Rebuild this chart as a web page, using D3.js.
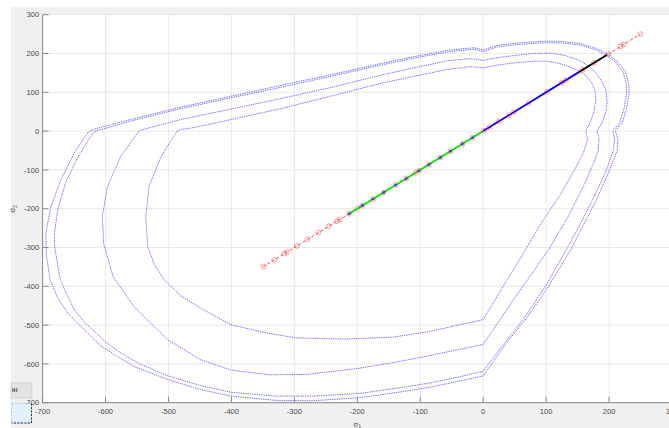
<!DOCTYPE html>
<html>
<head>
<meta charset="utf-8">
<script src="https://cdn.jsdelivr.net/npm/d3@7"></script>
<style>
  html, body { margin: 0; padding: 0; background: #ffffff; }
  svg { display: block; }
  text { font-family: "Liberation Sans", Arial, Helvetica, sans-serif; }
</style>
</head>
<body>
<svg id="chart" width="669" height="428"></svg>
<script>
// Axis ticks (MPa)
const xTicks = [-700, -600, -500, -400, -300, -200, -100, 0, 100, 200, 300];
const yTicks = [-700, -600, -500, -400, -300, -200, -100, 0, 100, 200, 300];

// Failure envelopes in the sigma1-sigma2 plane, [sigma1, sigma2]
const envelopeA = [
  [198,198],[180,213],[154,226],[125,231],[100,232],[60,228],[22,221],[0,209],[-15,215],[-57,208],
  [-110,192],[-163,174],[-240,146],[-321,118],[-400,90],[-480,62],[-560,30],[-605,11],[-620,4],
  [-627,-2],[-634,-18],[-650,-57],[-671,-126],[-687,-195],[-695,-265],[-694,-320],[-688,-383],
  [-676,-430],[-660,-469],[-640,-502],[-607,-554],[-581,-581],[-554,-607],[-502,-640],[-449,-666],
  [-401,-683],[-330,-694],[-272,-695],[-195,-687],[-126,-671],[-84,-660],[-40,-645],[0,-631],
  [35,-550],[70,-480],[104,-400],[139,-306],[160,-240],[180,-177],[201,-100],[213,-49],[214,-20],
  [210,0],[221,22],[228,60],[232,100],[231,125],[226,154],[213,180]
];
const envelopeB = [
  [195,195],[180,209],[154,222],[125,227],[100,228],[60,224],[22,217],[0,205],[-15,211],[-57,204],
  [-110,188],[-163,170],[-240,142],[-321,113],[-400,86],[-480,58],[-560,26],[-598,8],[-612,2],
  [-618,-2],[-626,-20],[-642,-62],[-663,-130],[-676,-203],[-681,-260],[-681,-297],[-672,-383],
  [-666,-405],[-650,-460],[-632,-495],[-598,-546],[-574,-574],[-548,-598],[-502,-630],[-449,-656],
  [-401,-673],[-330,-683],[-272,-683],[-195,-676],[-126,-660],[-84,-649],[-40,-634],[0,-619],
  [32,-550],[66,-480],[99,-400],[132,-306],[154,-240],[174,-177],[196,-100],[207,-49],[209,-20],
  [206,0],[217,22],[224,60],[228,100],[227,125],[222,154],[209,180]
];
const envelopeC = [
  [168,168],[150,184],[130,195],[107,201],[80,200],[50,195],[22,189],[0,182],[-20,187],[-57,181],
  [-110,163],[-163,144],[-240,113],[-321,84],[-400,57],[-480,30],[-530,9],[-547,0],[-556,-20],
  [-576,-66],[-597,-143],[-605,-220],[-603,-290],[-588,-375],[-555,-452],[-502,-537],[-449,-589],
  [-401,-616],[-340,-628],[-280,-627],[-200,-612],[-140,-596],[-84,-578],[0,-550],[50,-430],
  [104,-306],[135,-220],[160,-140],[176,-80],[183,-49],[184,-20],[181,0],[189,22],[195,50],
  [197,75],[195,105],[188,130],[178,152]
];
const envelopeD = [
  [154,154],[140,164],[120,175],[101,180],[80,180],[50,176],[22,170],[0,163],[-20,166],[-57,159],
  [-110,141],[-163,123],[-240,91],[-321,58],[-400,30],[-460,9],[-480,4],[-486,0],[-495,-22],
  [-512,-66],[-531,-143],[-536,-220],[-533,-297],[-522,-345],[-507,-383],[-480,-425],[-449,-456],
  [-401,-499],[-345,-520],[-297,-533],[-220,-536],[-143,-531],[-84,-516],[0,-486],[30,-405],
  [62,-320],[91,-240],[123,-163],[145,-100],[159,-57],[166,-20],[163,0],[170,22],[176,50],
  [179,80],[178,101],[174,120],[165,140]
];

// Equibiaxial loading path sigma1 = sigma2 (MPa)
const pathExtent = [-350, 250];
const pathMarkers = [-349,-332,-316,-312,-296,-279,-262,-245,-232,-228,-213,-200,-192,-175,-158,-139,
  -122,-107,-102,-86,-68,-52,-33,-17,1,10,25,41,49,72,101,125,131,158,176,199,218,223,250];
const greenSegment = [-213, 0];
const blueSegment = [0, 152];
const blackSegment = [152, 197];
const blueDots = [-213,-192,-175,-158,-139,-122,-102,-86,-68,-52,-33,-17];

const svg = d3.select("#chart");
const W = 669, H = 428;

// figure background
svg.append("rect").attr("x", 0).attr("y", 0).attr("width", W).attr("height", H).attr("fill", "#ffffff");
svg.append("rect").attr("x", 11).attr("y", 7).attr("width", W - 11).attr("height", H - 7).attr("fill", "#f0f0f0");

const x = d3.scaleLinear().domain([-700, 300]).range([42.6, 672.0]);
const y = d3.scaleLinear().domain([-700, 300]).range([402.7, 14.7]);

// axes background
svg.append("rect")
  .attr("x", x(-700)).attr("y", y(300))
  .attr("width", x(300) - x(-700)).attr("height", y(-700) - y(300))
  .attr("fill", "#ffffff");

// grid
const grid = svg.append("g").attr("stroke", "#e4e4e4").attr("stroke-width", 0.8);
grid.selectAll("line.gx").data(xTicks).join("line")
  .attr("x1", d => x(d)).attr("x2", d => x(d))
  .attr("y1", y(300)).attr("y2", y(-700));
grid.selectAll("line.gy").data(yTicks).join("line")
  .attr("x1", x(-700)).attr("x2", x(300))
  .attr("y1", d => y(d)).attr("y2", d => y(d));

// envelopes
const line = d3.line().x(d => x(d[0])).y(d => y(d[1])).curve(d3.curveLinearClosed);
const env = svg.append("g")
  .attr("fill", "none")
  .attr("stroke", "#3b3bff")
  .attr("stroke-width", 0.9)
  .attr("stroke-dasharray", "1.4,0.9")
  .attr("stroke-linejoin", "round")
  .attr("stroke-opacity", 0.8);
[envelopeA, envelopeB, envelopeC, envelopeD].forEach(e => env.append("path").attr("d", line(e)));

// loading path
svg.append("line")
  .attr("x1", x(pathExtent[0])).attr("y1", y(pathExtent[0]))
  .attr("x2", x(pathExtent[1])).attr("y2", y(pathExtent[1]))
  .attr("stroke", "#ff2a2a").attr("stroke-width", 0.9).attr("stroke-dasharray", "3,2.2");

function segment(s, color) {
  svg.append("line")
    .attr("x1", x(s[0])).attr("y1", y(s[0]))
    .attr("x2", x(s[1])).attr("y2", y(s[1]))
    .attr("stroke", color).attr("stroke-width", 1.8);
}
segment(greenSegment, "#00e600");
segment(blueSegment, "#0000ff");
segment(blackSegment, "#000000");

svg.append("g").selectAll("circle").data(blueDots).join("circle")
  .attr("cx", d => x(d)).attr("cy", d => y(d)).attr("r", 1.3)
  .attr("fill", "#1a3cff");

svg.append("g").selectAll("circle").data(pathMarkers).join("circle")
  .attr("cx", d => x(d)).attr("cy", d => y(d)).attr("r", 2.4)
  .attr("fill", "none").attr("stroke", "#ff3030").attr("stroke-width", 0.8).attr("stroke-opacity", 0.6);

// axes lines and ticks
const axisColor = "#8a8a8a";
svg.append("line").attr("x1", x(-700)).attr("x2", x(-700)).attr("y1", y(300)).attr("y2", y(-700))
  .attr("stroke", axisColor).attr("stroke-width", 1);
svg.append("line").attr("x1", x(-700)).attr("x2", x(300)).attr("y1", y(-700)).attr("y2", y(-700))
  .attr("stroke", axisColor).attr("stroke-width", 1);
svg.append("g").selectAll("line").data(yTicks).join("line")
  .attr("x1", x(-700)).attr("x2", x(-700) + 6)
  .attr("y1", d => y(d)).attr("y2", d => y(d))
  .attr("stroke", axisColor);
svg.append("g").selectAll("line").data(xTicks).join("line")
  .attr("x1", d => x(d)).attr("x2", d => x(d))
  .attr("y1", y(-700)).attr("y2", y(-700) - 6)
  .attr("stroke", axisColor);

// tick labels
const labelColor = "#4a4a4a";
svg.append("g").selectAll("text").data(yTicks).join("text")
  .attr("x", x(-700) - 3.5).attr("y", d => y(d) + 2.7)
  .attr("text-anchor", "end").attr("font-size", 7.5).attr("fill", labelColor)
  .text(d => d);
svg.append("g").selectAll("text").data(xTicks).join("text")
  .attr("x", d => x(d)).attr("y", y(-700) + 11.5)
  .attr("text-anchor", "middle").attr("font-size", 7.5).attr("fill", labelColor)
  .text(d => d);

// axis titles
const xt = svg.append("text").attr("x", x(-200)).attr("y", 426.5)
  .attr("text-anchor", "middle").attr("font-size", 7.5).attr("fill", labelColor);
xt.append("tspan").text("σ");
xt.append("tspan").attr("font-size", 5).attr("dy", 1.5).text("1");
const yt = svg.append("text")
  .attr("transform", `translate(15,${y(-200)}) rotate(-90)`)
  .attr("text-anchor", "middle").attr("font-size", 7.5).attr("fill", labelColor);
yt.append("tspan").text("σ");
yt.append("tspan").attr("font-size", 5).attr("dy", 1.5).text("2");

// toolbar widgets at lower left
svg.append("rect").attr("x", 11).attr("y", 383).attr("width", 21).attr("height", 15)
  .attr("fill", "#e3e3e3").attr("stroke", "#cfcfcf").attr("stroke-width", 0.8);
svg.append("text").attr("x", 12).attr("y", 391.5).attr("font-size", 5.5).attr("font-weight", "bold")
  .attr("fill", "#34466b").text("IH");
svg.append("rect").attr("x", 11.5).attr("y", 403.5).attr("width", 20).attr("height", 19.5)
  .attr("fill", "#e4f0fb").attr("stroke", "#9fb6d3").attr("stroke-width", 0.8).attr("stroke-dasharray", "2,1.5");
svg.append("path").attr("d", "M31.5,403.5 V423 H11.5")
  .attr("fill", "none").attr("stroke", "#1d3a5e").attr("stroke-width", 1).attr("stroke-dasharray", "2,1.5");
</script>
</body>
</html>
